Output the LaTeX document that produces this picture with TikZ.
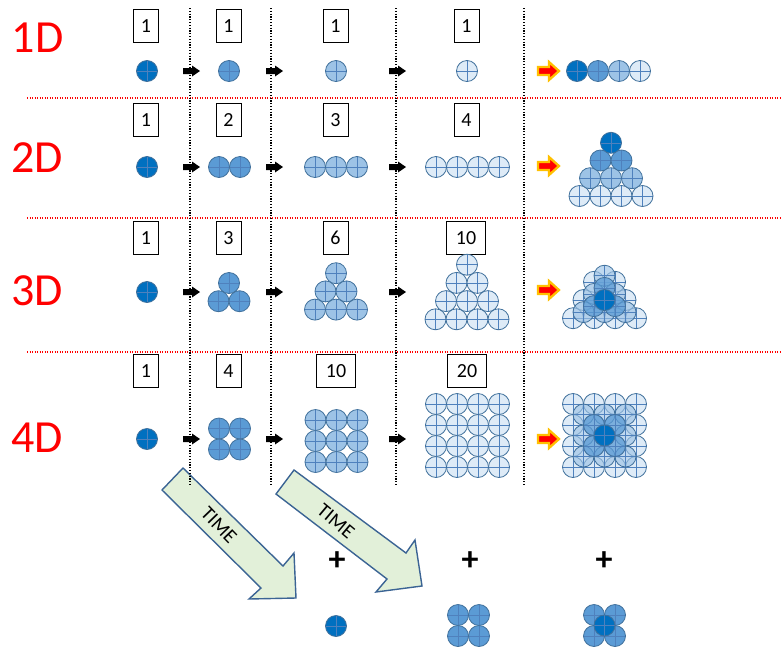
\documentclass[tikz,border=0pt]{standalone}
\usepackage{fontspec}
\setmainfont{Carlito}
\definecolor{c1}{HTML}{0070C0}
\definecolor{c2}{HTML}{5B9BD5}
\definecolor{c3}{HTML}{9DC3E6}
\definecolor{c4}{HTML}{DEEBF7}
\definecolor{bstroke}{HTML}{41719C}
\definecolor{bcross}{HTML}{4F81BD}
\definecolor{tgreen}{HTML}{E2F0D9}
\definecolor{tstroke}{HTML}{3B6494}
\definecolor{gold}{HTML}{FFC000}
\begin{document}
\begin{tikzpicture}[x=1pt,y=-1pt,
  ballline/.style={draw=bstroke,line width=0.8pt},
  crossline/.style={draw=bcross,line width=0.6pt},
  pics/ball/.style={code={
    \fill[#1] (0,0) circle (10.5);
    \draw[crossline] (-10.5,0)--(10.5,0) (0,-10.5)--(0,10.5);
    \draw[ballline] (0,0) circle (10.5);}},
  pics/barrow/.style={code={
    \fill[black] (0,-3)--(9,-3)--(9,-5.5)--(17,0)--(9,5.5)--(9,3)--(0,3)--cycle;}},
  pics/rarrow/.style={code={
    \draw[draw=gold,fill=red,line width=2.3pt,line join=miter]
      (0,-4)--(11,-4)--(11,-9)--(21,0)--(11,9)--(11,4)--(0,4)--cycle;}},
  dimlabel/.style={text=red,font=\fontsize{46}{46}\selectfont,inner sep=0pt},
  numbox/.style={draw=black,line width=0.9pt,minimum width=25pt,minimum height=33pt,inner sep=0pt,font=\fontsize{20}{20}\selectfont},
  widebox/.style={numbox,minimum width=39pt},
  reddot/.style={draw=red,line width=1.3pt,dash pattern=on 1.2pt off 1.3pt},
  blkdot/.style={draw=black,line width=1.3pt,dash pattern=on 1.2pt off 1.6pt},
  timearrow/.style={draw=tstroke,fill=tgreen,line width=1.4pt,line join=miter},
  timetext/.style={font=\fontsize{20}{20}\selectfont,inner sep=0pt},
  plustext/.style={font=\bfseries\fontsize{34}{34}\selectfont,inner sep=0pt}
]
\useasboundingbox (0,0) rectangle (782,646);

% TIME arrows
\draw[timearrow] (183,468)--(283,566)--(294,553)--(296,598)--(249,599)--(261,588)--(162,490)--cycle;
\draw[timearrow] (294,470)--(406,553)--(415,540)--(422,586)--(376,592)--(387,579)--(276,494)--cycle;
\node[timetext,rotate=-46] (t1) at (219,525) {TIME};
\node[timetext,rotate=-40] (t2) at (336,521) {TIME};

% separators
\foreach \yy in {98,218,352} \draw[reddot] (27,\yy) -- (782,\yy);
\foreach \xx in {190,271,396,524} \draw[blkdot] (\xx,8) -- (\xx,485);

% dimension labels
\node[dimlabel] (l1) at (37.5,38) {1D};
\node[dimlabel] (l2) at (37,158) {2D};
\node[dimlabel] (l3) at (37,291) {3D};
\node[dimlabel] (l4) at (37,438) {4D};

% number boxes
\node[numbox] (n11) at (146,26) {1};
\node[numbox] (n12) at (228.5,26) {1};
\node[numbox] (n13) at (335.5,26) {1};
\node[numbox] (n14) at (466.5,26) {1};
\node[numbox] (n21) at (146,120) {1};
\node[numbox] (n22) at (228.5,120) {2};
\node[numbox] (n23) at (335.5,120) {3};
\node[numbox] (n24) at (466.5,120) {4};
\node[numbox] (n31) at (146,238) {1};
\node[numbox] (n32) at (228.5,238) {3};
\node[numbox] (n33) at (335.5,238) {6};
\node[widebox] (n34) at (466,238) {10};
\node[numbox] (n41) at (146,371) {1};
\node[numbox] (n42) at (228.5,371) {4};
\node[widebox] (n43) at (336,371) {10};
\node[widebox] (n44) at (467,371) {20};

% black arrows
\foreach \yy in {71,167,292,439}
  \foreach \xx in {183,266,389}
    \pic at (\xx,\yy) {barrow};
% red arrows
\foreach \yy in {71,166,290,439}
  \pic at (538,\yy) {rarrow};

% ---- Row 1D
\pic at (147,71) {ball=c1};
\pic at (229,71) {ball=c2};
\pic at (336,71) {ball=c3};
\pic at (467,71) {ball=c4};
\pic at (577,71) {ball=c1};
\pic at (598,71) {ball=c2};
\pic at (619,71) {ball=c3};
\pic at (640,71) {ball=c4};

% ---- Row 2D
\pic at (147,167) {ball=c1};
\foreach \xx in {219,240} \pic at (\xx,167) {ball=c2};
\foreach \xx in {315,336,357} \pic at (\xx,167) {ball=c3};
\foreach \xx in {436,457,478,499} \pic at (\xx,167) {ball=c4};
\foreach \xx in {579.5,600.5,621.5,642.5} \pic at (\xx,196) {ball=c4};
\foreach \xx in {590,611,632} \pic at (\xx,178.2) {ball=c3};
\foreach \xx in {600.5,621.5} \pic at (\xx,160.5) {ball=c2};
\pic at (611,142.8) {ball=c1};

% ---- Row 3D
\pic at (147,292) {ball=c1};
\foreach \xx in {218.5,239.5} \pic at (\xx,301.2) {ball=c2};
\pic at (229,283) {ball=c2};
\foreach \xx in {315,336,357} \pic at (\xx,309.6) {ball=c3};
\foreach \xx in {325.5,346.5} \pic at (\xx,291.4) {ball=c3};
\pic at (336,273.2) {ball=c3};
\foreach \xx in {435.5,456.5,477.5,498.5} \pic at (\xx,319.3) {ball=c4};
\foreach \xx in {446,467,488} \pic at (\xx,301.1) {ball=c4};
\foreach \xx in {456.5,477.5} \pic at (\xx,282.9) {ball=c4};
\pic at (467,264.7) {ball=c4};
% superposition 3D
\foreach \xx in {573,594,615,636} \pic at (\xx,318.2) {ball=c4};
\foreach \xx in {583.5,604.5,625.5} \pic at (\xx,300) {ball=c4};
\foreach \xx in {594,615} \pic at (\xx,281.8) {ball=c4};
\foreach \xx in {583.5,604.5,625.5} \pic at (\xx,312.1) {ball={c3,fill opacity=0.65}};
\foreach \xx in {594,615} \pic at (\xx,293.9) {ball={c3,fill opacity=0.65}};
\pic at (604.5,275.7) {ball={c3,fill opacity=0.65}};
\foreach \xx in {594,615} \pic at (\xx,306.1) {ball={c2,fill opacity=0.75}};
\pic at (604.5,287.9) {ball={c2,fill opacity=0.75}};
\pic at (604.5,300) {ball=c1};

% ---- Row 4D
\pic at (147,439) {ball=c1};
\foreach \xx in {219,240} \foreach \yy in {428.5,449.5} \pic at (\xx,\yy) {ball=c2};
\foreach \xx in {315.5,336.5,357.5} \foreach \yy in {420,441,462} \pic at (\xx,\yy) {ball=c3};
\foreach \xx in {436,457,478,499} \foreach \yy in {404,425,446,467} \pic at (\xx,\yy) {ball=c4};
% superposition 4D
\foreach \xx in {573,594,615,636} \foreach \yy in {404,425,446,467} \pic at (\xx,\yy) {ball=c4};
\foreach \xx in {583.5,604.5,625.5} \foreach \yy in {414.5,435.5,456.5} \pic at (\xx,\yy) {ball={c3,fill opacity=0.65}};
\foreach \xx in {594,615} \foreach \yy in {425,446} \pic at (\xx,\yy) {ball={c2,fill opacity=0.75}};
\pic at (604.5,435.5) {ball=c1};

% ---- bottom
\node[plustext] (p1) at (337,561) {+};
\node[plustext] (p2) at (470,561) {+};
\node[plustext] (p3) at (604,561) {+};
\pic at (336,626) {ball=c1};
\foreach \xx in {458,479} \foreach \yy in {615,636} \pic at (\xx,\yy) {ball=c2};
\foreach \xx in {594,615} \foreach \yy in {615,636} \pic at (\xx,\yy) {ball=c2};
\pic at (604.5,625.5) {ball=c1};
\end{tikzpicture}
\end{document}
